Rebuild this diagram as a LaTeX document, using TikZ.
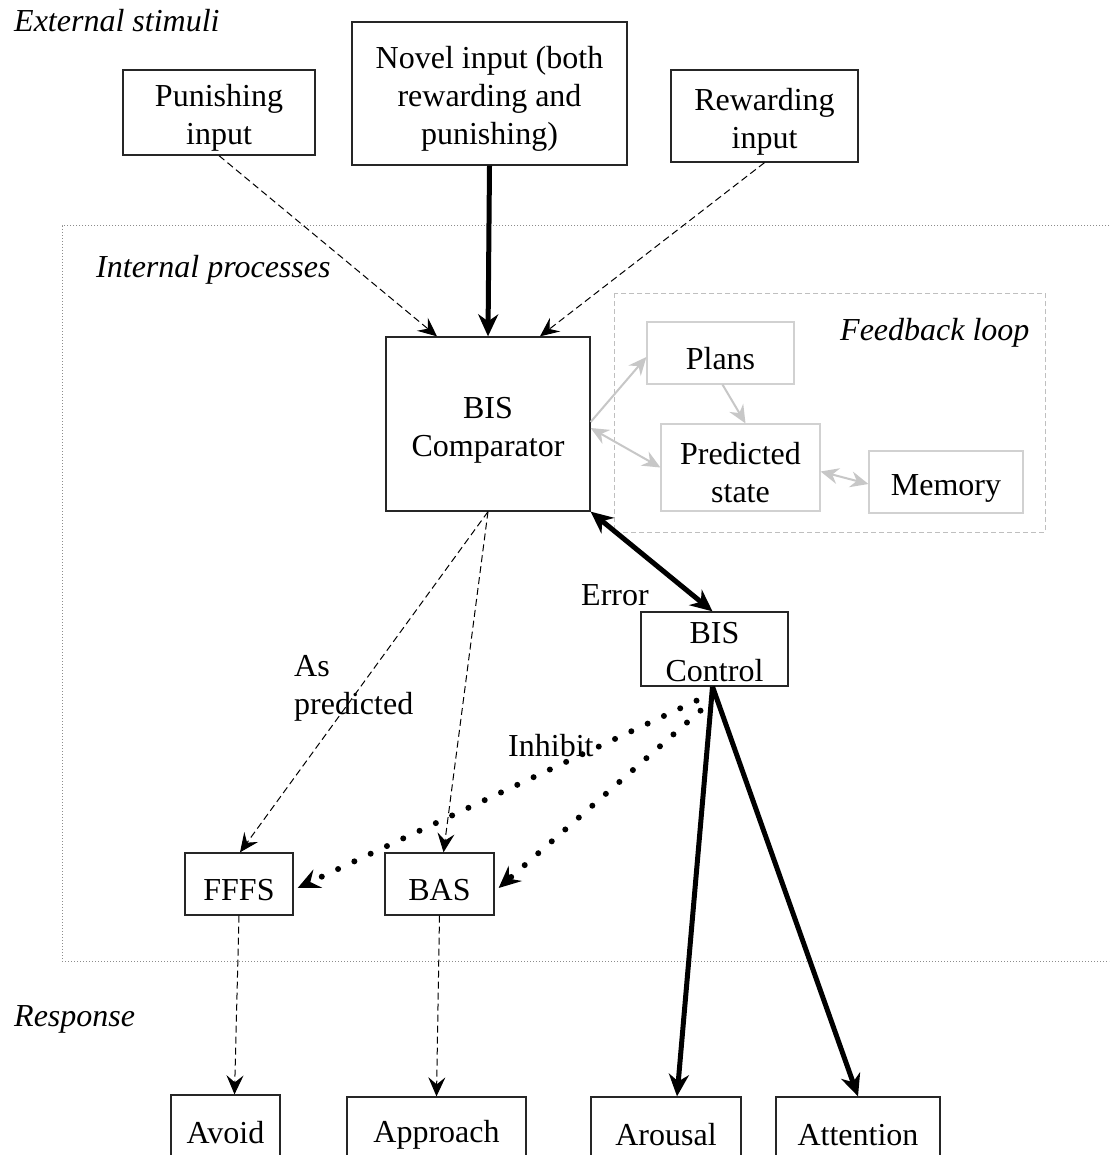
\documentclass[tikz,border=0pt]{standalone}
\usepackage{fontspec}
\setmainfont{Liberation Serif}
\usetikzlibrary{arrows.meta}
\newcommand\bxstrut{\rule{0pt}{33pt}}
\begin{document}
\begin{tikzpicture}[x=1pt,y=-1pt,
  every node/.style={font=\fontsize{32}{38}\selectfont, inner sep=0pt, align=center},
  box/.style={draw=black!85, line width=1.3pt},
  gbox/.style={draw=black!18, line width=1.2pt},
  lbl/.style={anchor=base west, font=\fontsize{32}{38}\selectfont\itshape},
  txt/.style={anchor=base west},
  dsh/.style={line width=1pt, dash pattern=on 7pt off 4pt, -{Stealth[length=19pt,width=17pt,inset=7pt]}},
  thk/.style={line width=5pt, -{Stealth[length=22pt,width=20pt,inset=7pt]}},
  thkd/.style={line width=5pt, {Stealth[length=22pt,width=20pt,inset=7pt]}-{Stealth[length=22pt,width=20pt,inset=7pt]}},
  dts/.style={line width=6pt, line cap=round, dash pattern=on 0pt off 18pt, -{Stealth[length=22pt,width=20pt,inset=8pt]}},
  gar/.style={draw=black!22, line width=2pt, -{Stealth[length=18pt,width=16pt,inset=6pt]}},
  gard/.style={draw=black!22, line width=2pt, {Stealth[length=18pt,width=16pt,inset=6pt]}-{Stealth[length=18pt,width=16pt,inset=6pt]}},
]
\clip (0,0) rectangle (1109,1155);
\fill[white] (0,0) rectangle (1109,1155);

% frames
\draw[black!45, line width=1pt, dash pattern=on 1pt off 2pt] (1115,226) -- (62,226) -- (62,961) -- (1115,961);
\draw[black!25, line width=1pt, dash pattern=on 5pt off 3pt] (614,293) rectangle (1045,532);

% labels
\node[lbl] (ext) at (14,32) {External stimuli};
\node[lbl] (intl) at (96,277) {Internal processes};
\node[lbl] (fbl) at (840,340) {Feedback loop};
\node[lbl] (resp) at (14,1026) {Response};
\node[txt] (err) at (581,605) {Error};
\node[txt] (as1) at (294,676) {As};
\node[txt] (as2) at (294,714) {predicted};
\node[txt] (inh) at (508,756) {Inhibit};

% boxes
\node[box, minimum width=192pt, minimum height=85pt] (pun) at (219,112.5) {\bxstrut Punishing\\input};
\node[box, minimum width=275pt, minimum height=143pt] (nov) at (489.5,93.5) {\bxstrut Novel input (both\\rewarding and\\punishing)};
\node[box, minimum width=187pt, minimum height=92pt] (rew) at (764.5,116) {\bxstrut Rewarding\\input};
\node[box, minimum width=204pt, minimum height=174pt] (cmp) at (488,424) {\bxstrut BIS\\Comparator};
\node[gbox, minimum width=147pt, minimum height=62pt] (pln) at (720.5,353) {\bxstrut Plans};
\node[gbox, minimum width=159pt, minimum height=87pt] (prd) at (740.5,467.5) {\bxstrut Predicted\\state};
\node[gbox, minimum width=154pt, minimum height=62pt] (mem) at (946,482) {\bxstrut Memory};
\node[box, minimum width=147pt, minimum height=74pt] (ctl) at (714.5,649) {\rule{0pt}{27pt}BIS\\Control};
\node[box, minimum width=108pt, minimum height=62pt] (fff) at (239,884) {\bxstrut FFFS};
\node[box, minimum width=109pt, minimum height=62pt] (bas) at (439.5,884) {\bxstrut BAS};
\node[box, minimum width=109pt, minimum height=64pt] (avo) at (225.5,1127) {\bxstrut Avoid};
\node[box, minimum width=179pt, minimum height=64pt] (app) at (436.5,1129) {\bxstrut Approach};
\node[box, minimum width=150pt, minimum height=64pt] (aro) at (666,1129) {\bxstrut Arousal};
\node[box, minimum width=164pt, minimum height=64pt] (att) at (858,1129) {\bxstrut Attention};

% stimuli to comparator
\draw[dsh] (pun.south) -- ([xshift=-51pt]cmp.north);
\draw[thk] (nov.south) -- (cmp.north);
\draw[dsh] (rew.south) -- ([xshift=52pt]cmp.north);

% feedback loop
\draw[gar] ([yshift=2pt]cmp.east) -- ([yshift=-4pt]pln.west);
\draw[gard] ([yshift=-4pt]cmp.east) -- (prd.west);
\draw[gar] ([xshift=2pt]pln.south) -- ([xshift=5pt]prd.north);
\draw[gard] ([yshift=-4pt]prd.east) -- ([yshift=-2pt]mem.west);

% error
\draw[thkd] (cmp.south east) -- ([xshift=-2pt]ctl.north);

% as predicted
\draw[dsh] (cmp.south) -- ([xshift=1pt]fff.north);
\draw[dsh] (cmp.south) -- ([xshift=4pt]bas.north);

% inhibit
\draw[dts] ([xshift=-18pt,yshift=-14pt]ctl.south) -- ([xshift=4pt,yshift=-4pt]fff.east);
\draw[dts] ([xshift=-14pt,yshift=-24pt]ctl.south) -- ([xshift=4pt,yshift=-4pt]bas.east);

% control outputs
\draw[thk] ([xshift=-2pt]ctl.south) -- ([xshift=11pt]aro.north);
\draw[thk] ([xshift=-2pt]ctl.south) -- (att.north);

% responses
\draw[dsh] (fff.south) -- ([xshift=9pt]avo.north);
\draw[dsh] (bas.south) -- (app.north);
\end{tikzpicture}
\end{document}
